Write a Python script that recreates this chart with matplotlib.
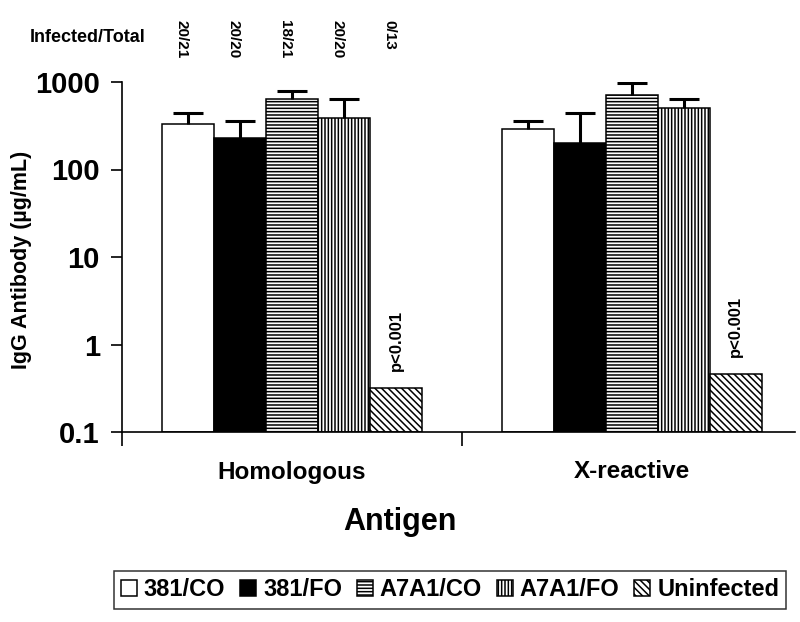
import matplotlib
matplotlib.use("Agg")
import matplotlib.pyplot as plt
import matplotlib.transforms as mtransforms
import numpy as np

# ---- data ----
antigens = ["Homologous", "X-reactive"]
groups = ["381/CO", "381/FO", "A7A1/CO", "A7A1/FO", "Uninfected"]
infected_total = ["20/21", "20/20", "18/21", "20/20", "0/13"]
# mean IgG antibody (µg/mL) per group, for [Homologous, X-reactive]
means = {
    "381/CO":     [331, 288],
    "381/FO":     [231, 199],
    "A7A1/CO":    [640, 716],
    "A7A1/FO":    [385, 509],
    "Uninfected": [0.32, 0.46],
}
# upper end of error bars (mean + SD); None = no error bar
err_top = {
    "381/CO":     [442, 355],
    "381/FO":     [355, 438],
    "A7A1/CO":    [796, 966],
    "A7A1/FO":    [645, 640],
    "Uninfected": [None, None],
}
p_label = "p<0.001"
yticks = [0.1, 1, 10, 100, 1000]
ytick_labels = ["0.1", "1", "10", "100", "1000"]
ymin, ymax = 0.1, 1000

# ---- style ----
FONT = ["Liberation Sans", "DejaVu Sans"]
plt.rcParams["font.family"] = FONT
plt.rcParams["font.weight"] = "bold"
plt.rcParams["hatch.linewidth"] = 1.1
plt.rcParams["hatch.color"] = "black"

styles = {
    "381/CO":     dict(facecolor="white", hatch=None),
    "381/FO":     dict(facecolor="black", hatch=None),
    "A7A1/CO":    dict(facecolor="white", hatch="-----"),
    "A7A1/FO":    dict(facecolor="white", hatch="|||||"),
    "Uninfected": dict(facecolor="white", hatch="\\\\\\\\\\"),
}

fig = plt.figure(figsize=(8.0, 6.22), dpi=100)
ax = fig.add_axes([122 / 800, 1 - 432 / 622, (795 - 122) / 800, (432 - 82) / 622])

x = np.arange(len(antigens))
bw = 0.153
n = len(groups)
for i, g in enumerate(groups):
    xi = x + (i - (n - 1) / 2) * bw
    vals = np.array(means[g], dtype=float)
    st = styles[g]
    ax.bar(xi, vals - ymin, width=bw, bottom=ymin, facecolor=st["facecolor"],
           edgecolor="black", linewidth=1.1, hatch=st["hatch"], label=g, zorder=2)
    tops = err_top[g]
    for xx, v, t in zip(xi, vals, tops):
        if t is not None:
            _, caps, _ = ax.errorbar([xx], [v], yerr=[[0], [t - v]], fmt="none",
                                     ecolor="black", elinewidth=2.2, capsize=11,
                                     capthick=2.2, zorder=3)
            for c in caps:
                if np.allclose(c.get_ydata(), v):
                    c.set_visible(False)
    if g == "Uninfected":
        for xx, v in zip(xi, vals):
            ax.text(xx, v * 1.55, p_label, rotation=90, ha="center", va="bottom",
                    fontsize=12, fontweight="bold")

ax.set_yscale("log")
ax.set_ylim(ymin, ymax)
ax.set_xlim(-0.5, 1.48)
ax.set_yticks(yticks)
ax.set_yticklabels(ytick_labels)
ax.yaxis.set_minor_locator(matplotlib.ticker.NullLocator())
ax.tick_params(axis="y", length=8, width=1.2, labelsize=21, pad=8)
ax.set_xticks([-0.5, 0.5])
ax.set_xticklabels([])
ax.tick_params(axis="x", length=10, width=1.2, direction="out")
tr_xa = mtransforms.blended_transform_factory(ax.transData, ax.transAxes)
for xx, lab in zip(x, antigens):
    ax.text(xx, -(472 - 432) / 350, lab, transform=tr_xa,
            ha="center", va="center", fontsize=17.5, fontweight="bold")
ax.text(0.5, 1 - 522 / 622, "Antigen", transform=fig.transFigure, ha="center",
        va="center", fontsize=22, fontweight="bold")
for s in ["top", "right"]:
    ax.spines[s].set_visible(False)
for s in ["left", "bottom"]:
    ax.spines[s].set_linewidth(1.2)

fig.text(22 / 800, 1 - 260 / 622, "IgG Antibody (µg/mL)", rotation=90, ha="center",
         va="center", fontsize=15.5, fontweight="bold")

# infected / total row
fig.text(88 / 800, 1 - 38 / 622, "Infected/Total", ha="center", va="center",
         fontsize=13, fontweight="bold")
tr = mtransforms.blended_transform_factory(ax.transData, fig.transFigure)
for i, lab in enumerate(infected_total):
    xx = x[0] + (i - (n - 1) / 2) * bw - 0.02
    ax.text(xx, 1 - 20 / 622, lab, transform=tr, rotation=270, ha="center", va="top",
            fontsize=11, fontweight="bold")

leg = fig.legend(loc="center", bbox_to_anchor=(450 / 800, 1 - 590 / 622), ncol=5,
                 frameon=True, fancybox=False, edgecolor="black", fontsize=17,
                 handlelength=0.68, handleheight=0.68, handletextpad=0.3,
                 columnspacing=0.62, borderpad=0.3, borderaxespad=0)
leg.get_frame().set_linewidth(1.1)

fig.savefig("out.png", dpi=100)
